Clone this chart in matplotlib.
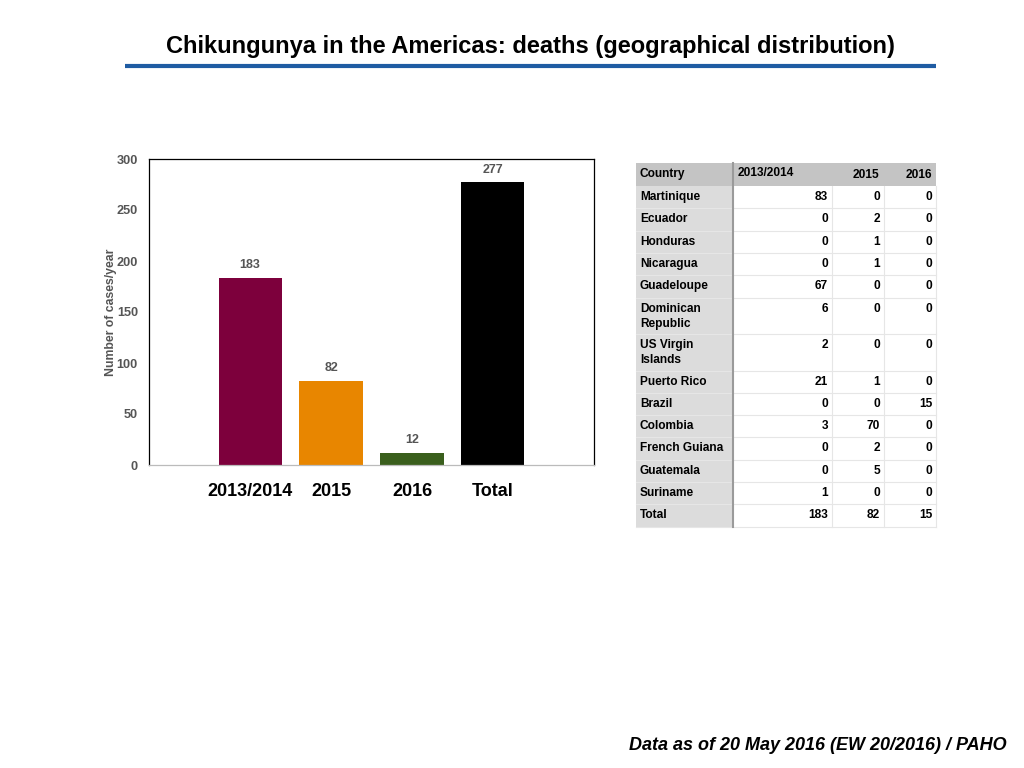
import matplotlib
matplotlib.use("Agg")
import matplotlib.pyplot as plt
from matplotlib.patches import Rectangle

plt.rcParams['font.family'] = ['Liberation Sans', 'DejaVu Sans']

# ---- data ----
categories = ["2013/2014", "2015", "2016", "Total"]
deaths = [183, 82, 12, 277]
bar_colors = ["#7d003c", "#e88600", "#3a5f1d", "#000000"]

table_header = ["Country", "2013/2014", "2015", "2016"]
countries = ["Martinique", "Ecuador", "Honduras", "Nicaragua", "Guadeloupe",
             "Dominican\nRepublic", "US Virgin\nIslands", "Puerto Rico", "Brazil",
             "Colombia", "French Guiana", "Guatemala", "Suriname", "Total"]
col_2013_2014 = [83, 0, 0, 0, 67, 6, 2, 21, 0, 3, 0, 0, 1, 183]
col_2015 = [0, 2, 1, 1, 0, 0, 0, 1, 0, 70, 2, 5, 0, 82]
col_2016 = [0, 0, 0, 0, 0, 0, 0, 0, 15, 0, 0, 0, 0, 15]

W, H = 1024, 768
fig = plt.figure(figsize=(W / 100, H / 100), dpi=100)

# ---- bar chart ----
ax = fig.add_axes([149 / W, 1 - 465 / H, (594 - 149) / W, (465 - 159) / H])
x = list(range(len(categories)))
bars = ax.bar(x, deaths, width=0.78, color=bar_colors)
ax.set_xlim(-1.25, 4.25)
ax.set_ylim(0, 300)
ax.set_yticks([0, 50, 100, 150, 200, 250, 300])
ax.tick_params(axis='y', length=0, pad=8, labelsize=9.2, labelcolor="#555555")
for lbl in ax.get_yticklabels():
    lbl.set_fontweight('bold')
ax.set_xticks(x)
ax.set_xticklabels(categories, fontsize=13, fontweight='bold')
ax.tick_params(axis='x', length=0, pad=13)
ax.set_ylabel("Number of cases/year", fontsize=8.8, fontweight='bold', color="#555555", labelpad=-0.5)
for s in ['top', 'left', 'right']:
    ax.spines[s].set_color('black')
    ax.spines[s].set_linewidth(0.9)
ax.spines['bottom'].set_color('#bbbbbb')
ax.spines['bottom'].set_linewidth(0.9)
for b, v in zip(bars, deaths):
    ax.annotate(str(v), (b.get_x() + b.get_width() / 2, v), xytext=(0, 5),
                textcoords='offset points', ha='center', va='bottom',
                fontsize=9, fontweight='bold', color='#555555')

# ---- overlay for title, line, table, footer (pixel coordinates) ----
ov = fig.add_axes([0, 0, 1, 1])
ov.set_xlim(0, W)
ov.set_ylim(H, 0)
ov.axis('off')
ov.patch.set_alpha(0)

ov.text(530, 47, "Chikungunya in the Americas: deaths (geographical distribution)",
        ha='center', va='center', fontsize=17, fontweight='bold')
ov.plot([125, 936], [66, 66], color="#1f5ca3", lw=3, solid_capstyle='butt')

ov.text(1007, 745, "Data as of 20 May 2016 (EW 20/2016) / PAHO", ha='right', va='center',
        fontsize=13, fontweight='bold', style='italic')

# table
fs = 8.6
col_edges = [636, 733, 832, 884, 936]
header_top, header_bot = 163, 186
single_h, double_h = 22.3, 36.5
ov.add_patch(Rectangle((col_edges[0], header_top), col_edges[-1] - col_edges[0],
                       header_bot - header_top, facecolor="#c4c4c4", edgecolor='none'))
ov.text(640, 174, table_header[0], ha='left', va='center', fontsize=fs, fontweight='bold')
ov.text(738, 173, table_header[1], ha='left', va='center', fontsize=fs, fontweight='bold')
ov.text(879, 175, table_header[2], ha='right', va='center', fontsize=fs, fontweight='bold')
ov.text(932, 175, table_header[3], ha='right', va='center', fontsize=fs, fontweight='bold')

y = header_bot
for name, a, b, c in zip(countries, col_2013_2014, col_2015, col_2016):
    two = "\n" in name
    h = double_h if two else single_h
    ov.add_patch(Rectangle((col_edges[0], y), col_edges[1] - col_edges[0], h,
                           facecolor="#dcdcdc", edgecolor='none'))
    ov.plot([col_edges[0], col_edges[-1]], [y + h, y + h], color="#e6e6e6", lw=0.8)
    ty = y + 11
    if two:
        ov.text(640, y + 5, name, ha='left', va='top', fontsize=fs,
                fontweight='bold', linespacing=1.35)
    else:
        ov.text(640, ty, name, ha='left', va='center', fontsize=fs, fontweight='bold')
    ov.text(828, ty, str(a), ha='right', va='center', fontsize=fs, fontweight='bold')
    ov.text(880, ty, str(b), ha='right', va='center', fontsize=fs, fontweight='bold')
    ov.text(932, ty, str(c), ha='right', va='center', fontsize=fs, fontweight='bold')
    y += h
table_bottom = y
ov.plot([col_edges[1], col_edges[1]], [header_top, table_bottom], color="#9a9a9a", lw=1.5)
for xe in col_edges[2:]:
    ov.plot([xe, xe], [header_bot, table_bottom], color="#e6e6e6", lw=0.8)

fig.savefig("out.png", dpi=100)
